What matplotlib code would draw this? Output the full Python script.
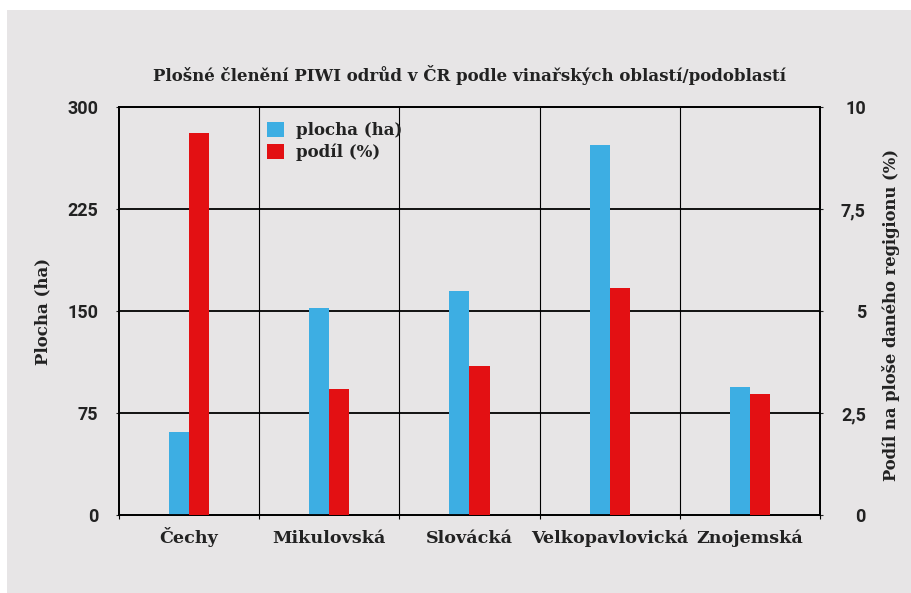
import matplotlib
matplotlib.use("Agg")
import matplotlib.pyplot as plt
from matplotlib.patches import Rectangle
import numpy as np

# Data
regions = ["Čechy", "Mikulovská", "Slovácká", "Velkopavlovická", "Znojemská"]
plocha_ha = [61, 152, 165, 272, 94]
podil_pct = [9.36, 3.09, 3.65, 5.56, 2.97]

left_ticks = [0, 75, 150, 225, 300]
right_ticks = [0, 2.5, 5, 7.5, 10]
right_tick_labels = ["0", "2,5", "5", "7,5", "10"]

title = "Plošné členění PIWI odrůd v ČR podle vinařských oblastí/podoblastí"
ylabel_left = "Plocha (ha)"
ylabel_right = "Podíl na ploše daného regigionu (%)"
legend_labels = ["plocha (ha)", "podíl (%)"]

BG = "#e7e5e6"
BLUE = "#3daee3"
RED = "#e31013"
SERIF = "DejaVu Serif"
SANS = "Roboto"

fig = plt.figure(figsize=(9.12, 5.93), dpi=100, facecolor="white")
fig.patches.append(Rectangle((7 / 912, 0), 1, 1 - 10 / 593, transform=fig.transFigure,
                             facecolor=BG, edgecolor="none", zorder=-10))

ax = fig.add_axes([119 / 912, 78 / 593, 701 / 912, 408 / 593])
ax.set_facecolor(BG)
ax2 = ax.twinx()

x = np.arange(len(regions))
w = 0.143
ax.bar(x - w / 2, plocha_ha, width=w, color=BLUE, zorder=3, label=legend_labels[0])
ax2.bar(x + w / 2, podil_pct, width=w, color=RED, zorder=3, label=legend_labels[1])

ax.set_ylim(0, 300)
ax2.set_ylim(0, 10)
ax.set_xlim(-0.5, len(regions) - 0.5)

# grid: horizontal lines and category separators
for v in left_ticks[1:-1]:
    ax.axhline(v, color="black", lw=1.3, zorder=1)
for b in np.arange(0.5, len(regions) - 0.5):
    ax.axvline(b, color="black", lw=0.8, zorder=1)

for a in (ax, ax2):
    for s in a.spines.values():
        s.set_color("black")
        s.set_linewidth(1.3)

ax.set_yticks(left_ticks)
ax.set_yticklabels([str(t) for t in left_ticks], fontfamily=SANS, fontweight="bold", fontsize=13)
ax.tick_params(axis="y", length=2, width=0.8, pad=13, colors="#222222")

ax2.set_yticks(right_ticks)
ax2.set_yticklabels(right_tick_labels, fontfamily=SANS, fontweight="bold", fontsize=13, ha="right")
ax2.tick_params(axis="y", length=2, width=0.8, pad=31, colors="#222222")

ax.set_xticks(x)
ax.set_xticklabels(regions, fontfamily=SERIF, fontweight="bold", fontsize=12.6, va="baseline")
ax.set_xticks(np.arange(-0.5, len(regions)), minor=True)
ax.tick_params(axis="x", which="major", length=0, pad=20, colors="#222222")
ax.tick_params(axis="x", which="minor", length=3, width=0.8)

ax.set_ylabel(ylabel_left, fontfamily=SERIF, fontweight="bold", fontsize=12, color="#222222")
ax.yaxis.set_label_coords(-0.097, 0.5)
ax2.set_ylabel(ylabel_right, fontfamily=SERIF, fontweight="bold", fontsize=11.8, color="#222222")
ax2.yaxis.set_label_coords(1.088, 0.49)

ax.set_title(title, fontfamily=SERIF, fontweight="bold", fontsize=12, color="#222222", pad=18.5)

h1, l1 = ax.get_legend_handles_labels()
h2, l2 = ax2.get_legend_handles_labels()
leg = ax2.legend(h1 + h2, l1 + l2, loc="upper left", bbox_to_anchor=(0.19, 1.0),
                 frameon=False, handlelength=1.0, handleheight=1.0, handletextpad=0.7,
                 labelspacing=0.25, prop={"family": SERIF, "weight": "bold", "size": 12})
for t in leg.get_texts():
    t.set_color("#222222")

fig.savefig("out.png", dpi=100, facecolor=fig.get_facecolor())
